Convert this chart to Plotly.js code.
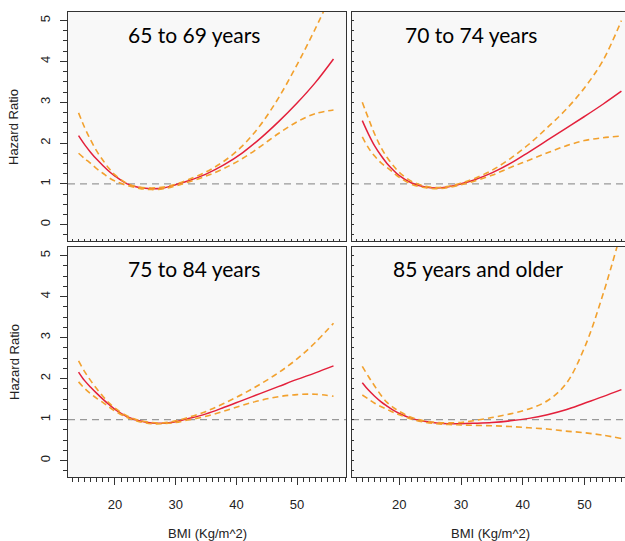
<!DOCTYPE html>
<html>
<head>
<meta charset="utf-8">
<script src="https://cdn.plot.ly/plotly-3.0.1.min.js"></script>
<style>html,body{margin:0;padding:0;background:#fff;}#chart{width:625px;height:541px;}</style>
</head>
<body>
<div id="chart"></div>
<script>
// ---- Data ----
const panelTitles = ["65 to 69 years", "70 to 74 years", "75 to 84 years", "85 years and older"];
const bmi = [14, 15, 16, 17, 18, 19, 20, 22, 24, 26, 28, 30, 32, 35, 38, 41, 44, 47, 50, 53, 56];

const hr65 =    [2.18, 1.96, 1.77, 1.60, 1.45, 1.31, 1.19, 1.00, 0.91, 0.88, 0.90, 0.98, 1.07, 1.24, 1.47, 1.76, 2.12, 2.53, 2.98, 3.48, 4.06];
const upper65 = [2.74, 2.38, 2.07, 1.80, 1.58, 1.38, 1.22, 1.01, 0.92, 0.90, 0.92, 0.99, 1.10, 1.29, 1.56, 1.93, 2.45, 3.12, 3.92, 4.80, 5.75];
const lower65 = [1.75, 1.62, 1.50, 1.37, 1.26, 1.15, 1.07, 0.96, 0.89, 0.86, 0.88, 0.95, 1.04, 1.19, 1.38, 1.62, 1.92, 2.24, 2.52, 2.72, 2.81];

const hr70 =    [2.55, 2.22, 1.93, 1.70, 1.50, 1.34, 1.20, 1.02, 0.93, 0.90, 0.93, 1.00, 1.09, 1.27, 1.50, 1.78, 2.07, 2.36, 2.65, 2.95, 3.27];
const upper70 = [3.00, 2.60, 2.22, 1.90, 1.65, 1.45, 1.28, 1.06, 0.95, 0.91, 0.94, 1.02, 1.12, 1.33, 1.62, 1.97, 2.38, 2.82, 3.35, 4.02, 5.00];
const lower70 = [2.15, 1.88, 1.68, 1.52, 1.40, 1.28, 1.16, 0.99, 0.91, 0.88, 0.91, 0.98, 1.06, 1.21, 1.40, 1.58, 1.76, 1.93, 2.06, 2.13, 2.17];

const hr75 =    [2.16, 1.95, 1.79, 1.64, 1.50, 1.37, 1.25, 1.07, 0.97, 0.92, 0.91, 0.95, 1.02, 1.14, 1.30, 1.47, 1.64, 1.81, 1.98, 2.14, 2.31];
const upper75 = [2.43, 2.17, 1.95, 1.75, 1.57, 1.41, 1.28, 1.09, 0.98, 0.93, 0.92, 0.97, 1.05, 1.20, 1.40, 1.62, 1.87, 2.15, 2.48, 2.88, 3.35];
const lower75 = [1.92, 1.76, 1.63, 1.52, 1.42, 1.31, 1.21, 1.05, 0.95, 0.90, 0.90, 0.93, 0.99, 1.08, 1.21, 1.35, 1.47, 1.56, 1.61, 1.62, 1.57];

const hr85 =    [1.90, 1.72, 1.57, 1.44, 1.33, 1.23, 1.15, 1.03, 0.96, 0.92, 0.90, 0.90, 0.91, 0.93, 0.97, 1.03, 1.12, 1.24, 1.40, 1.56, 1.73];
const upper85 = [2.30, 2.05, 1.82, 1.60, 1.42, 1.30, 1.20, 1.05, 0.97, 0.93, 0.92, 0.93, 0.97, 1.05, 1.14, 1.26, 1.46, 1.87, 2.75, 4.05, 5.60];
const lower85 = [1.60, 1.50, 1.40, 1.32, 1.25, 1.18, 1.12, 1.01, 0.94, 0.90, 0.88, 0.87, 0.86, 0.85, 0.83, 0.80, 0.77, 0.72, 0.68, 0.62, 0.54];

const referenceHR = 1;
const yTickVals = [0, 1, 2, 3, 4, 5];
const xTickVals = [20, 30, 40, 50];
const yTitle = "Hazard Ratio";
const xTitle = "BMI (Kg/m^2)";

// ---- Styling ----
const RED = "#e3203b";
const ORANGE = "#f2a12e";
const FRAME = "#333333";
const BG = "#f8f8f8";
const tickFont = {family: "Liberation Sans, Arial, sans-serif", size: 13, color: "#222"};

const panels = [
  {hr: hr65, up: upper65, lo: lower65, xa: "x", ya: "y"},
  {hr: hr70, up: upper70, lo: lower70, xa: "x2", ya: "y2"},
  {hr: hr75, up: upper75, lo: lower75, xa: "x3", ya: "y3"},
  {hr: hr85, up: upper85, lo: lower85, xa: "x4", ya: "y4"}
];

const traces = [];
panels.forEach(p => {
  traces.push({x: bmi, y: p.hr, xaxis: p.xa, yaxis: p.ya, mode: "lines",
    line: {color: RED, width: 1.5, shape: "spline", smoothing: 1}, hoverinfo: "skip"});
  traces.push({x: bmi, y: p.up, xaxis: p.xa, yaxis: p.ya, mode: "lines",
    line: {color: ORANGE, width: 1.6, dash: "6px,4px", shape: "spline", smoothing: 1}, hoverinfo: "skip"});
  traces.push({x: bmi, y: p.lo, xaxis: p.xa, yaxis: p.ya, mode: "lines",
    line: {color: ORANGE, width: 1.6, dash: "6px,4px", shape: "spline", smoothing: 1}, hoverinfo: "skip"});
});

const W = 625, H = 541;
const px = v => v / W;
const py = v => 1 - v / H;

const xLeftDom = [px(68), px(346)];
const xRightDom = [px(352), 1];
const yTopDom = [py(241), py(12)];
const yBotDom = [py(477), py(247)];
const xLeftRange = [12.26, 58.06];
const xRightRange = [12.33, 56.58];
const yRange = [-0.4, 5.21];

const baseAxis = {showgrid: false, zeroline: false, showline: true, mirror: true,
  linecolor: FRAME, linewidth: 1, tickcolor: FRAME, tickwidth: 1, fixedrange: true};

function xAxisLabelled(domain, range, anchor) {
  return Object.assign({}, baseAxis, {domain, range, anchor, tickvals: xTickVals,
    ticks: "outside", ticklen: 7, tickfont: tickFont, showticklabels: true, ticklabelstandoff: 8,
    minor: {ticks: "outside", ticklen: 4, dtick: 1, tick0: 0, tickcolor: FRAME, tickwidth: 1}});
}
function xAxisPlain(domain, range, anchor) {
  return Object.assign({}, baseAxis, {domain, range, anchor, tickvals: xTickVals,
    ticks: "inside", ticklen: 2, showticklabels: false,
    minor: {ticks: "inside", ticklen: 2, dtick: 1, tick0: 0, tickcolor: FRAME, tickwidth: 1}});
}
function yAxisLabelled(domain, anchor) {
  return Object.assign({}, baseAxis, {domain, range: yRange, anchor, tickvals: yTickVals,
    ticks: "outside", ticklen: 7, tickfont: tickFont, tickangle: -90, showticklabels: true, ticklabelstandoff: 5,
    minor: {ticks: "outside", ticklen: 4, dtick: 0.25, tick0: 0, tickcolor: FRAME, tickwidth: 1}});
}
function yAxisPlain(domain, anchor) {
  return Object.assign({}, baseAxis, {domain, range: yRange, anchor, tickvals: yTickVals,
    ticks: "inside", ticklen: 2, showticklabels: false,
    minor: {ticks: "inside", ticklen: 2, dtick: 0.25, tick0: 0, tickcolor: FRAME, tickwidth: 1}});
}

const shapes = ["x", "x2", "x3", "x4"].map((xa, i) => ({
  type: "line", xref: xa + " domain", yref: ["y", "y2", "y3", "y4"][i],
  x0: 0, x1: 1, y0: referenceHR, y1: referenceHR,
  line: {color: "#999999", width: 1.3, dash: "7px,5px"}, layer: "below"
}));

const titleFont = {family: "Lato, 'Open Sans', sans-serif", size: 21, color: "#000"};
const titlePos = [[193.5, 34], [471, 34], [193.5, 268], [477.5, 268]];
const annotations = panelTitles.map((t, i) => ({
  text: t, xref: "paper", yref: "paper", x: px(titlePos[i][0]), y: py(titlePos[i][1]),
  xanchor: "center", yanchor: "middle", showarrow: false, font: titleFont
}));
const axFont = {family: "Liberation Sans, Arial, sans-serif", size: 13, color: "#222"};
annotations.push({text: yTitle, xref: "paper", yref: "paper", x: px(14), y: py(127), textangle: -90,
  xanchor: "center", yanchor: "middle", showarrow: false, font: axFont});
annotations.push({text: yTitle, xref: "paper", yref: "paper", x: px(14), y: py(362), textangle: -90,
  xanchor: "center", yanchor: "middle", showarrow: false, font: axFont});
annotations.push({text: xTitle, xref: "paper", yref: "paper", x: px(207), y: py(533),
  xanchor: "center", yanchor: "middle", showarrow: false, font: axFont});
annotations.push({text: xTitle, xref: "paper", yref: "paper", x: px(490), y: py(533),
  xanchor: "center", yanchor: "middle", showarrow: false, font: axFont});

const layout = {
  width: W, height: H, margin: {l: 0, r: 0, t: 0, b: 0},
  paper_bgcolor: "#ffffff", plot_bgcolor: BG, showlegend: false,
  xaxis: xAxisPlain(xLeftDom, xLeftRange, "y"),
  yaxis: yAxisLabelled(yTopDom, "x"),
  xaxis2: xAxisPlain(xRightDom, xRightRange, "y2"),
  yaxis2: yAxisPlain(yTopDom, "x2"),
  xaxis3: xAxisLabelled(xLeftDom, xLeftRange, "y3"),
  yaxis3: yAxisLabelled(yBotDom, "x3"),
  xaxis4: xAxisLabelled(xRightDom, xRightRange, "y4"),
  yaxis4: yAxisPlain(yBotDom, "x4"),
  shapes, annotations
};

Plotly.newPlot("chart", traces, layout, {displayModeBar: false, staticPlot: true});
</script>
</body>
</html>
